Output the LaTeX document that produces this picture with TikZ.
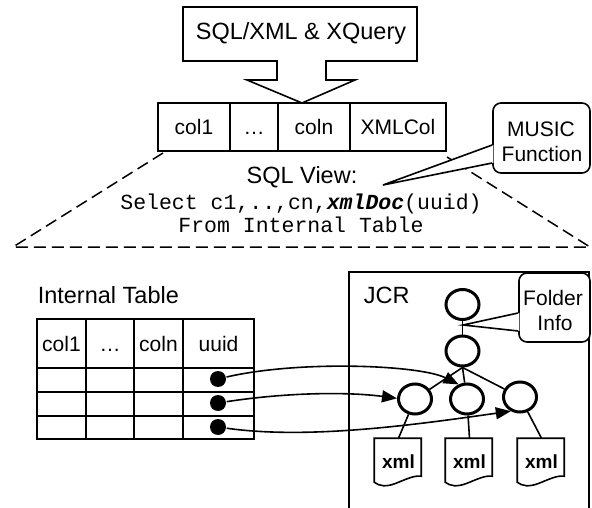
\documentclass[tikz,border=0pt]{standalone}
\usepackage{fontspec}
\setmainfont{Liberation Sans}
\setmonofont{Liberation Mono}
\usetikzlibrary{arrows.meta,shapes.geometric,calc}

\begin{document}
\begin{tikzpicture}[x=1pt,y=-1pt,
  line width=1.6pt, line join=miter,
  title/.style={font=\fontsize{23.5}{27}\selectfont, inner sep=0pt, anchor=base},
  label/.style={font=\fontsize{21}{25}\selectfont, inner sep=0pt, anchor=base},
  code/.style={font=\ttfamily\fontsize{21.5}{25}\selectfont, inner sep=0pt, anchor=base},
  colcell/.style={draw, fill=white, minimum height=48pt, inner sep=0pt,
    text height=15pt, text depth=0pt, font=\fontsize{21}{25}\selectfont},
  tnode/.style={draw, ellipse, line width=3pt, minimum width=33pt,
    minimum height=30pt, inner sep=0pt},
  uuiddot/.style={circle, fill, minimum size=16pt, inner sep=0pt},
  link/.style={-{Triangle[length=15pt,width=12pt]}, line width=1.6pt},
  callout/.style={draw, fill=white, rounded corners=8pt, inner sep=0pt},
  docbox/.style={minimum width=47pt, minimum height=44pt, inner sep=0pt,
    font=\bfseries\fontsize{19}{22}\selectfont},
  viewline/.style={line width=1.5pt, dash pattern=on 12pt off 6pt}
]
\useasboundingbox (0,0) rectangle (592,508);

% ---------- query language box with its block arrow ----------
\draw[fill=white] (183,7) -- (417,7) -- (417,61) -- (326,61) -- (326,80)
  -- (355,80) -- (302,103) -- (247,80) -- (277,80) -- (277,61) -- (183,61) -- cycle;
\node[title] (query) at (301,40) {SQL/XML \& XQuery};

% ---------- view frustum (dashed) ----------
\draw[viewline] (163,153) -- (13,247) -- (590,247) -- (447,157);

% ---------- view columns ----------
\node[colcell, minimum width=72pt] (r1) at (194,127) {col1};
\node[colcell, minimum width=48pt] (r2) at (254,127) {…};
\node[colcell, minimum width=72pt] (r3) at (314,127) {coln};
\node[colcell, minimum width=96pt] (r4) at (398,127) {XMLCol};

% ---------- view definition ----------
\node[title] (viewtitle) at (302,183) {SQL View:};
\node[code] (sel) at (301,209) {Select c1,..,cn,\textbf{\textit{xmlDoc}}(uuid)};
\node[code] (from) at (301,232) {From Internal Table};

% ---------- MUSIC callout ----------
\node[callout, minimum width=97pt, minimum height=70pt] (music) at (541.5,138) {};
\node[label] (musicA) at (541,137) {MUSIC};
\node[label] (musicB) at (542,162) {Function};
\coordinate (musictip) at (383,185);
\fill[white] (musictip) -- ($(music.west)+(1.2,7)$) -- ($(music.west)+(1.2,25)$) -- cycle;
\path (music.west) ++(0,7) coordinate (mA) (music.west) ++(0,25) coordinate (mB);
\draw (mA) -- (musictip) -- (mB);

% ---------- internal table ----------
\node[title, anchor=base west] (ittitle) at (37,303) {Internal Table};
\draw (37,319) rectangle (254,439);
\foreach \yy in {368,392,416} \draw (37,\yy) -- (254,\yy);
\foreach \xx in {86,134,183} \draw (\xx,319) -- (\xx,439);
\node[label] (h1) at (61.5,351) {col1};
\node[label] (h2) at (110,351) {…};
\node[label] (h3) at (158.5,351) {coln};
\node[label] (h4) at (218.5,351) {uuid};
\node[uuiddot] (u1) at (218,379) {};
\node[uuiddot] (u2) at (218,403) {};
\node[uuiddot] (u3) at (218,427) {};

% ---------- JCR repository ----------
\draw (349,509) -- (349,272) -- (589,272) -- (589,509);
\node[title, anchor=base west] (jcr) at (363,303) {JCR};

\node[tnode] (n1) at (462.5,304.5) {};
\node[tnode] (n2) at (462.5,351) {};
\node[tnode] (c1) at (415,399) {};
\node[tnode] (c2) at (467,399) {};
\node[tnode] (c3) at (520,397) {};

\node[docbox] (d1) at (398.5,461) {};
\node[docbox] (d2) at (469.5,461) {};
\node[docbox] (d3) at (541.5,461) {};
\foreach \d in {d1,d2,d3}{
  \draw[shift={(\d.north west)}] (0,0) -- (47,0) -- (47,38)
    .. controls (40,37) and (32,41) .. (22,45)
    .. controls (12,49) and (5,48) .. (0,44) -- cycle;
  \node[font=\bfseries\fontsize{19}{22}\selectfont, inner sep=0pt, anchor=base]
    at ($(\d.center)+(0,7)$) {xml};
}

\draw (n1) -- (n2);
\draw (n2.south) -- (c1);
\draw (n2.south) -- (c2);
\draw (n2.south) -- (c3);
\draw (c1) -- (d1.north);
\draw (c2) -- (d2.north);
\draw (c3) -- (d3.north);

% ---------- Folder Info callout ----------
\node[callout, minimum width=71pt, minimum height=69pt] (folder) at (554.5,307.5) {};
\node[label] (folderA) at (553,305) {Folder};
\node[label] (folderB) at (555,330) {Info};
\coordinate (foldertip) at (463,325);
\fill[white] (foldertip) -- ($(folder.west)+(1.2,5.5)$) -- ($(folder.west)+(1.2,23.5)$) -- cycle;
\path (folder.west) ++(0,5.5) coordinate (fA) (folder.west) ++(0,23.5) coordinate (fB);
\draw (fA) -- (foldertip) -- (fB);

% ---------- references from uuid to nodes ----------
\draw[link] (u1) .. controls (300,360) and (420,365) .. (c2.120);
\draw[link] (u2) .. controls (290,392) and (350,392) .. (c1.178);
\draw[link] (u3) .. controls (310,440) and (420,424) .. (c3.237);
\end{tikzpicture}
\end{document}
